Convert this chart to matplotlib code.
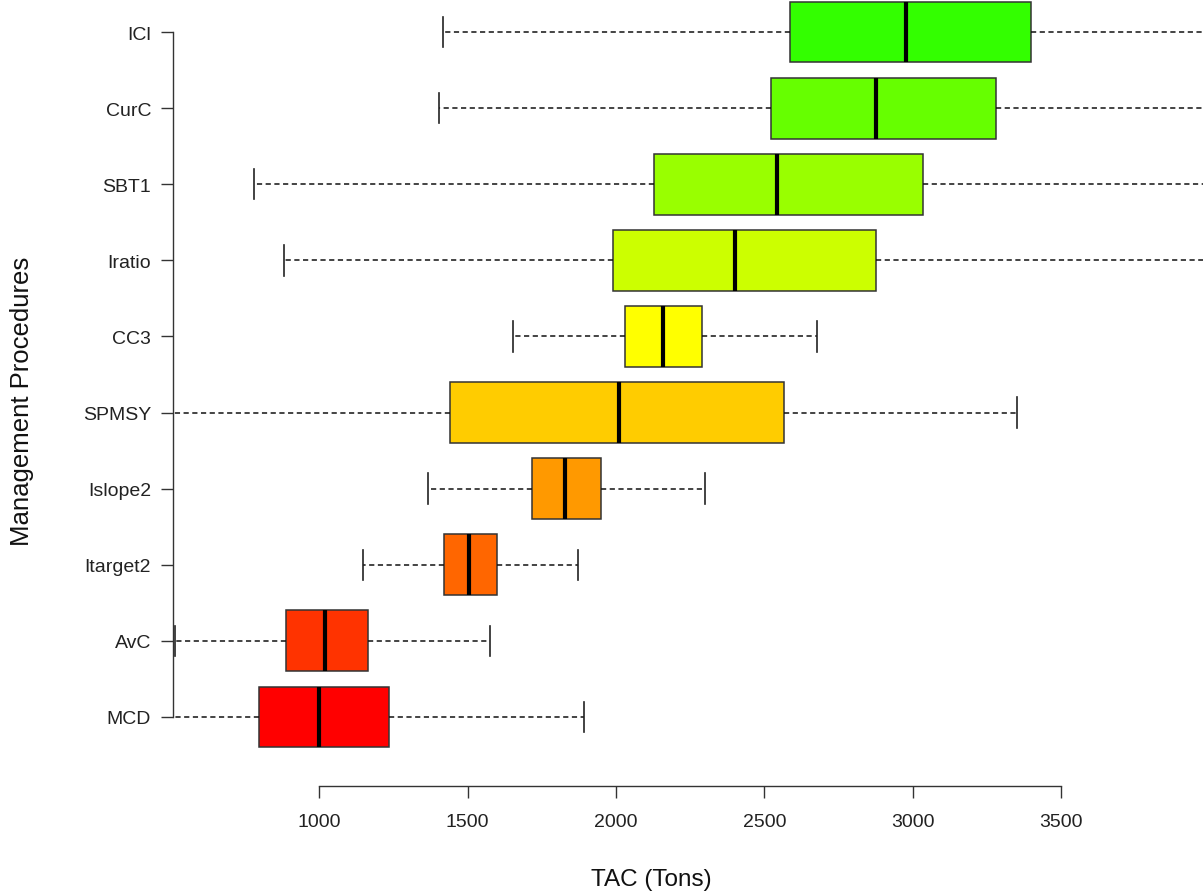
import matplotlib
matplotlib.use("Agg")
import matplotlib.pyplot as plt

plt.rcParams['font.family'] = ['Liberation Sans', 'DejaVu Sans']

# management procedures, bottom to top
procedures = ["MCD", "AvC", "Itarget2", "Islope2", "SPMSY",
              "CC3", "Iratio", "SBT1", "CurC", "ICl"]
whisker_low = [470, 514, 1146, 1366, 400, 1652, 881, 779, 1402, 1416]
q1 = [796, 889, 1419, 1717, 1440, 2030, 1989, 2128, 2521, 2587]
median = [999, 1019, 1505, 1827, 2011, 2157, 2402, 2542, 2875, 2978]
q3 = [1236, 1163, 1599, 1950, 2566, 2289, 2876, 3035, 3280, 3399]
whisker_high = [1892, 1575, 1872, 2301, 3353, 2677, 4250, 4300, 4350, 4400]
box_colors = ["#FF0000", "#FF3300", "#FF6600", "#FF9900", "#FFCC00",
              "#FFFF00", "#CCFF00", "#99FF00", "#66FF00", "#33FF00"]
x_ticks = [1000, 1500, 2000, 2500, 3000, 3500]

W, H = 1203, 895
fig = plt.figure(figsize=(W / 100, H / 100), dpi=100)
ax = fig.add_axes([172.7 / W, 108.5 / H, (W - 172.7) / W, 822 / H])

stats = []
for i, name in enumerate(procedures):
    stats.append(dict(label=name, whislo=whisker_low[i], q1=q1[i],
                      med=median[i], q3=q3[i], whishi=whisker_high[i]))

bp = ax.bxp(stats, positions=range(1, len(procedures) + 1), widths=0.8,
            orientation='horizontal', patch_artist=True, showfliers=False,
            boxprops=dict(edgecolor='#333333', linewidth=1.1),
            medianprops=dict(color='black', linewidth=3.0, solid_capstyle='butt'),
            whiskerprops=dict(color='#111111', linewidth=1.1,
                              linestyle=(0, (3.4, 2.3))),
            capprops=dict(color='#222222', linewidth=1.2),
            capwidths=0.4)
for patch, c in zip(bp['boxes'], box_colors):
    patch.set_facecolor(c)

ax.set_xlim(505.9, 3978.6)
ax.set_ylim(0.1, 10.9)

for side in ('top', 'right'):
    ax.spines[side].set_visible(False)
ax.spines['left'].set_bounds(1, 10)
ax.spines['bottom'].set_bounds(1000, 3500)
for side in ('left', 'bottom'):
    ax.spines[side].set_color('#333333')
    ax.spines[side].set_linewidth(1.0)

ax.set_xticks(x_ticks)
ax.set_xticklabels([str(t) for t in x_ticks])
ax.set_yticks(range(1, len(procedures) + 1))
ax.set_yticklabels(procedures)
ax.tick_params(axis='x', length=8.6, width=1.0, color='#333333', pad=11,
               labelsize=14, labelcolor='#222222')
ax.tick_params(axis='y', length=8.6, width=1.0, color='#333333', pad=7,
               labelsize=14, labelcolor='#222222')

fig.text(651 / W, 1 - 880 / H, "TAC (Tons)", ha='center', va='center',
         fontsize=17.5, color='#111111')
fig.text(22 / W, 1 - 401 / H, "Management Procedures", ha='center',
         va='center', rotation=90, fontsize=18.5, color='#111111')

fig.savefig("out.png", dpi=100)
